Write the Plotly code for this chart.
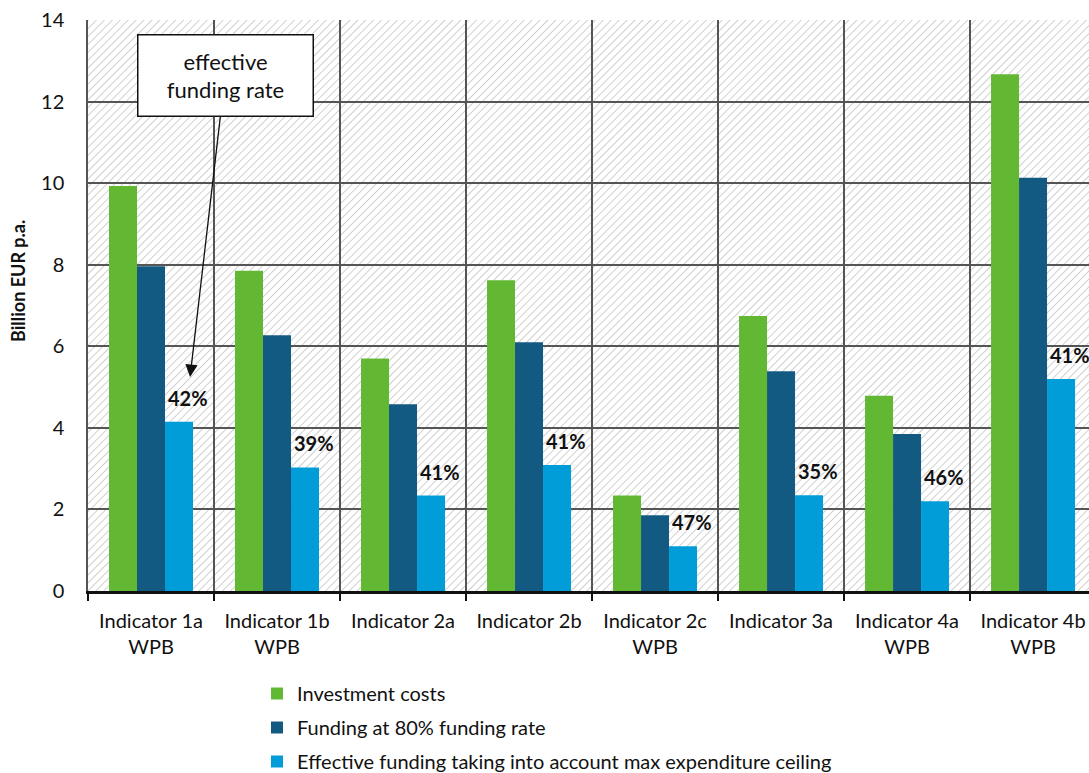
import base64
import plotly.graph_objects as go

# Categories and series (billion EUR per year)
categories = ["Indicator 1a<br>WPB", "Indicator 1b<br>WPB", "Indicator 2a", "Indicator 2b",
              "Indicator 2c<br>WPB", "Indicator 3a", "Indicator 4a<br>WPB", "Indicator 4b<br>WPB"]
investment_costs = [9.93, 7.85, 5.70, 7.62, 2.34, 6.74, 4.79, 12.67]
funding_80 = [7.96, 6.27, 4.58, 6.10, 1.86, 5.39, 3.85, 10.13]
effective_funding = [4.15, 3.03, 2.34, 3.09, 1.10, 2.35, 2.20, 5.20]

series_names = ["Investment costs", "Funding at 80% funding rate",
                "Effective funding taking into account max expenditure ceiling"]
series_colors = ["#62B832", "#135A82", "#009DD8"]

y_ticks = [0, 2, 4, 6, 8, 10, 12, 14]

FONT = "Lato"
W, H = 1089, 773
M_L, M_R, M_T, M_B = 88, 0, 20, 182
PW, PH = W - M_L - M_R, H - M_T - M_B

x_idx = list(range(len(categories)))

fig = go.Figure()
for name, vals, col in zip(series_names, [investment_costs, funding_80, effective_funding], series_colors):
    fig.add_trace(go.Bar(
        x=x_idx, y=vals, name=name, marker=dict(color=col, line=dict(width=0)),
        legendgroup=name, hoverinfo="skip",
    ))

# Effective funding rate labels above the light-blue bars
for i, (inv, eff) in enumerate(zip(investment_costs, effective_funding)):
    rate = round(eff / inv * 100)
    fig.add_annotation(
        x=i + 0.29, y=eff, text=f"<b>{rate}%</b>", showarrow=False,
        yanchor="bottom", yshift=10, font=dict(family=FONT, size=20, color="#111"),
    )

# Callout box with arrow pointing at the first rate label
fig.add_annotation(
    x=0.31, y=5.25, xref="x", yref="y",
    text="effective<br>funding rate", showarrow=True,
    ax=35, ay=-301, axref="pixel", ayref="pixel",
    arrowhead=2, arrowsize=1.9, arrowwidth=1.3, arrowcolor="#111",
    bgcolor="white", bordercolor="#111", borderwidth=1.5, borderpad=12,
    width=150, font=dict(family=FONT, size=22, color="#111"),
)

# Rotated y-axis title
fig.add_annotation(
    x=(18 - M_L) / PW, y=0.543, xref="paper", yref="paper", xanchor="center",
    text="<b>Billion EUR p.a.</b>",
    textangle=-90, showarrow=False, font=dict(family=FONT, size=18, color="#111"),
)

# Diagonal hatch background for the plot area
hatch_svg = f"""<svg xmlns='http://www.w3.org/2000/svg' width='{PW}' height='{PH}'>
<defs><pattern id='h' patternUnits='userSpaceOnUse' width='5.6' height='5.6' patternTransform='rotate(45)'>
<rect width='5.6' height='5.6' fill='white'/>
<line x1='0' y1='0' x2='0' y2='5.6' stroke='#c8c8c8' stroke-width='1.7'/></pattern></defs>
<rect width='{PW}' height='{PH}' fill='url(#h)'/></svg>"""
hatch_uri = "data:image/svg+xml;base64," + base64.b64encode(hatch_svg.encode()).decode()
fig.add_layout_image(
    source=hatch_uri, xref="paper", yref="paper", x=0, y=1, sizex=1, sizey=1,
    xanchor="left", yanchor="top", sizing="stretch", layer="below",
)

fig.update_layout(
    width=W, height=H,
    margin=dict(l=M_L, r=M_R, t=M_T, b=M_B, pad=0, autoexpand=False),
    paper_bgcolor="white", plot_bgcolor="rgba(0,0,0,0)",
    barmode="group", bargap=1 / 3, bargroupgap=0,
    font=dict(family=FONT, size=20, color="#111"),
    showlegend=True,
    legend=dict(
        x=(257 - M_L) / PW, y=-(674 - (H - M_B)) / PH, xanchor="left", yanchor="top",
        orientation="v",
        font=dict(family=FONT, size=20, color="#111"), tracegroupgap=5,
        bgcolor="rgba(0,0,0,0)",
    ),
)

fig.update_xaxes(
    range=[-0.5, 7.444], tickvals=x_idx, ticktext=categories, tickangle=0,
    showgrid=False, ticks="", showline=True, linecolor="#111", linewidth=2.5,
    ticklabelstandoff=10, zeroline=False,
    tickfont=dict(family=FONT, size=20, color="#111"),
    minor=dict(tick0=-0.5, dtick=1, ticks="outside", ticklen=7, tickwidth=2,
               tickcolor="#111", showgrid=True, gridcolor="#555", gridwidth=1.5),
)
fig.update_yaxes(
    range=[0, 14], tickvals=y_ticks, showgrid=True, gridcolor="#555", gridwidth=1.5,
    showline=True, linecolor="#555", linewidth=1.5, ticks="", zeroline=False,
    ticklabelstandoff=18, tickfont=dict(family=FONT, size=20, color="#111"),
)

fig.write_html("out.html")
